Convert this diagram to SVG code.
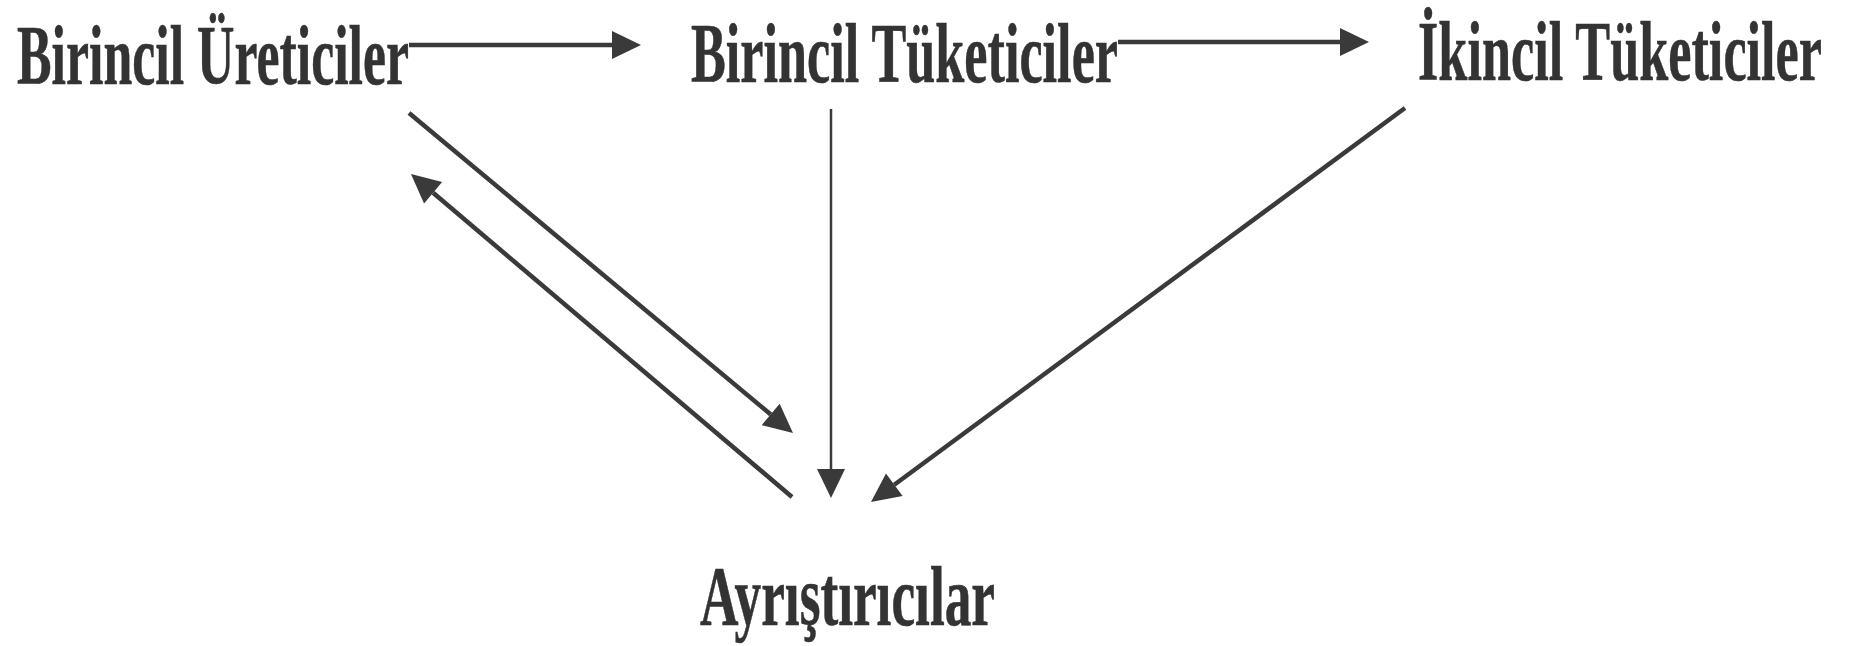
<svg xmlns="http://www.w3.org/2000/svg" width="1861" height="646" viewBox="0 0 1861 646">
<style>
.lbl{font-family:"Liberation Serif","Times New Roman",serif;font-weight:bold;font-size:85px;fill:#333333;stroke:#333333;stroke-width:0.6}
.ln{stroke:#3a3a3a;stroke-width:4.5;fill:none}
.thin{stroke-width:2.5}
</style>
<defs>
<marker id="ah" markerUnits="userSpaceOnUse" markerWidth="32" markerHeight="30" refX="0" refY="14" orient="auto" overflow="visible">
<path d="M0,0 L29,14 L0,28 Z" fill="#3a3a3a"/>
</marker>
</defs>
<rect width="1861" height="646" fill="#ffffff"/>
<g id="connectors">
<line class="ln" x1="409" y1="45" x2="612" y2="45" marker-end="url(#ah)"/>
<line class="ln" x1="1118" y1="42" x2="1340" y2="42" marker-end="url(#ah)"/>
<line class="ln" x1="409" y1="113" x2="770.7" y2="414.4" marker-end="url(#ah)"/>
<line class="ln" x1="792" y1="497" x2="433.1" y2="192.8" marker-end="url(#ah)"/>
<line class="ln thin" x1="831" y1="109" x2="831" y2="469" marker-end="url(#ah)"/>
<line class="ln" x1="1405" y1="108" x2="894.3" y2="484.8" marker-end="url(#ah)"/>
</g>
<g id="node-birincil-ureticiler">
<text class="lbl" x="17" y="84" textLength="392" lengthAdjust="spacingAndGlyphs">Birincil Üreticiler</text>
</g>
<g id="node-birincil-tuketiciler">
<text class="lbl" x="691" y="82" textLength="427" lengthAdjust="spacingAndGlyphs">Birincil Tüketiciler</text>
</g>
<g id="node-ikincil-tuketiciler">
<text class="lbl" x="1418" y="80" textLength="404" lengthAdjust="spacingAndGlyphs">İkincil Tüketiciler</text>
</g>
<g id="node-ayristiricilar">
<text class="lbl" x="700" y="625" textLength="295" lengthAdjust="spacingAndGlyphs">Ayrıştırıcılar</text>
</g>
</svg>
